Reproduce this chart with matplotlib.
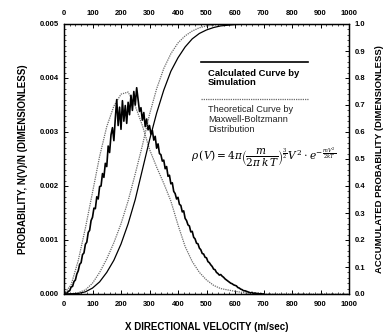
import numpy as np
import matplotlib
matplotlib.use("Agg")
import matplotlib.pyplot as plt
from matplotlib.ticker import MultipleLocator, FormatStrFormatter

plt.rcParams['font.family'] = ['Liberation Sans', 'DejaVu Sans']
plt.rcParams['mathtext.fontset'] = 'dejavuserif'

# Theoretical (Maxwell-Boltzmann) probability curve
theo_v = [0, 25, 50, 75, 100, 125, 150, 175, 200, 225, 250, 275, 300, 325, 350,
          375, 400, 425, 450, 475, 500, 525, 550, 600, 650, 700, 1000]
theo_pdf = [0, 0.00017, 0.00062, 0.00122, 0.00188, 0.00255, 0.0031, 0.00348, 0.0037,
            0.00374, 0.00348, 0.00312, 0.00268, 0.00235, 0.00205, 0.00172, 0.00128,
            0.00088, 0.0006, 0.0004, 0.00026, 0.00016, 0.0001, 0.00005, 0.00001, 0, 0]

# Simulated probability (noisy), every 5 m/s from 0 to 700, in units of 1e-4
sim_v = list(range(0, 705, 5))
sim_pdf_e4 = [
    0, 0.2, 0.1, 0.5, 0.6, 1.3, 1.4, 2.3, 2.6, 3.7,
    4.3, 5.5, 5.8, 7.3, 7.6, 9.2, 9.6, 11.4, 11.8, 13.6,
    14.2, 15.9, 15.8, 18.0, 17.6, 19.9, 20.0, 22.3, 21.6, 24.2,
    23.6, 27.4, 26.2, 29.5, 30.8, 28.4, 32.5, 36.0, 31.2, 34.6,
    30.5, 35.8, 32.0, 34.9, 31.6, 35.5, 33.2, 36.8, 34.0, 37.5,
    35.0, 38.2, 36.0, 33.8, 34.5, 32.2, 33.6, 31.0, 32.4, 30.4,
    31.2, 29.6, 30.3, 28.5, 29.2, 27.0, 27.8, 26.0, 25.8, 24.6,
    24.8, 23.2, 23.6, 21.8, 22.0, 20.4, 20.6, 19.0, 18.6, 17.6,
    17.9, 16.6, 16.4, 15.2, 15.4, 14.0, 13.6, 12.8, 12.6, 11.5,
    11.6, 10.5, 10.2, 9.4, 9.3, 8.5, 8.2, 7.5, 7.4, 6.8,
    6.7, 6.0, 5.8, 5.4, 5.1, 4.6, 4.5, 4.0, 3.8, 3.5,
    3.6, 3.3, 3.1, 2.8, 2.6, 2.4, 2.2, 2.0, 1.9, 1.7,
    1.6, 1.5, 1.2, 1.1, 0.9, 0.8, 0.6, 0.6, 0.5, 0.4,
    0.3, 0.2, 0.3, 0.1, 0.2, 0.1, 0.1, 0.0, 0.1, 0.0,
    0.0]

# Accumulated probability curves
theo_cdf_v = [0, 25, 50, 75, 100, 125, 150, 175, 200, 225, 250, 275, 300, 325, 350,
              375, 400, 425, 450, 475, 500, 550, 600, 1000]
theo_cdf = [0, 0.001, 0.005, 0.015, 0.04, 0.08, 0.13, 0.19, 0.26, 0.345, 0.445, 0.55,
            0.665, 0.76, 0.835, 0.89, 0.93, 0.956, 0.974, 0.986, 0.993, 0.998, 1.0, 1.0]
sim_cdf_v = [0, 50, 75, 100, 125, 150, 175, 200, 225, 250, 275, 300, 325, 350, 375,
             400, 425, 450, 475, 500, 525, 550, 600, 650, 1000]
sim_cdf = [0, 0.002, 0.008, 0.022, 0.045, 0.08, 0.125, 0.185, 0.26, 0.35, 0.46, 0.57,
           0.67, 0.755, 0.825, 0.875, 0.915, 0.945, 0.965, 0.978, 0.987, 0.993, 0.998,
           1.0, 1.0]

fig = plt.figure(figsize=(3.87, 3.36), dpi=100)
ax = fig.add_axes([64/387, 1-294/336, 285/387, 270/336])
ax2 = ax.twinx()

dot = (0, (1, 0.8))
grey = '#6a6a6a'
ax.plot(theo_v, theo_pdf, color=grey, lw=0.9, ls=dot)
ax.plot(sim_v, np.array(sim_pdf_e4) * 1e-4, color='black', lw=1.2)
ax2.plot(theo_cdf_v, theo_cdf, color=grey, lw=0.9, ls=dot)
ax2.plot(sim_cdf_v, sim_cdf, color='black', lw=0.9)

ax.set_xlim(0, 1000)
ax.set_ylim(0, 0.005)
ax2.set_ylim(0, 1.0)

ax.xaxis.set_major_locator(MultipleLocator(100))
ax.xaxis.set_minor_locator(MultipleLocator(20))
ax.yaxis.set_major_locator(MultipleLocator(0.001))
ax.yaxis.set_minor_locator(MultipleLocator(0.0001))
ax.yaxis.set_major_formatter(FormatStrFormatter('%.3f'))
ax2.yaxis.set_major_locator(MultipleLocator(0.1))
ax2.yaxis.set_minor_locator(MultipleLocator(0.02))
ax2.yaxis.set_major_formatter(FormatStrFormatter('%.1f'))

tick_font = dict(labelsize=5.5)
ax.tick_params(axis='x', which='both', direction='in', top=True, labeltop=True, **tick_font, pad=5)
ax.tick_params(axis='y', which='both', direction='in', **tick_font, pad=4)
ax.tick_params(which='major', length=3, width=0.7)
ax.tick_params(which='minor', length=1.5, width=0.5)
ax2.tick_params(axis='y', which='both', direction='in', **tick_font, pad=4)
ax2.tick_params(which='major', length=3, width=0.7)
ax2.tick_params(which='minor', length=1.5, width=0.5)
for lab in ax.get_xticklabels() + ax.get_yticklabels() + ax2.get_yticklabels():
    lab.set_fontweight('bold')
for sp in list(ax.spines.values()) + list(ax2.spines.values()):
    sp.set_linewidth(0.9)

ax.set_xlabel('X DIRECTIONAL VELOCITY (m/sec)', fontsize=7, fontweight='bold', labelpad=10)
ax.set_ylabel('PROBABILITY, N(V)/N (DIMENSIONLESS)', fontsize=7, fontweight='bold', labelpad=8)
ax2.set_ylabel('ACCUMULATED PROBABILITY (DIMENSIONLESS)', fontsize=6.8, fontweight='bold', labelpad=7)

# Legend drawn inside the axes
ax2.plot([0.48, 0.855], [0.858, 0.858], transform=ax.transAxes, color='black', lw=1.2)
ax2.text(0.505, 0.835, 'Calculated Curve by\nSimulation', transform=ax.transAxes,
         fontsize=6.8, fontweight='bold', va='top', ha='left', linespacing=1.1)
ax2.plot([0.48, 0.855], [0.722, 0.722], transform=ax.transAxes, color=grey, lw=0.9, ls=dot)
ax2.text(0.505, 0.70, 'Theoretical Curve by\nMaxwell-Boltzmann\nDistribution', transform=ax.transAxes,
         fontsize=6.6, va='top', ha='left', linespacing=1.15, color='#222222')
ax2.text(0.445, 0.505,
         r'$\rho\,(V) = 4\pi\left(\dfrac{m}{2\pi\,k\,T}\right)^{\frac{3}{2}}V^{\,2}\cdot e^{-\frac{m\,V^{2}}{2kT}}$',
         transform=ax.transAxes, fontsize=7.6, va='center', ha='left')

fig.savefig('out.png', dpi=100)
